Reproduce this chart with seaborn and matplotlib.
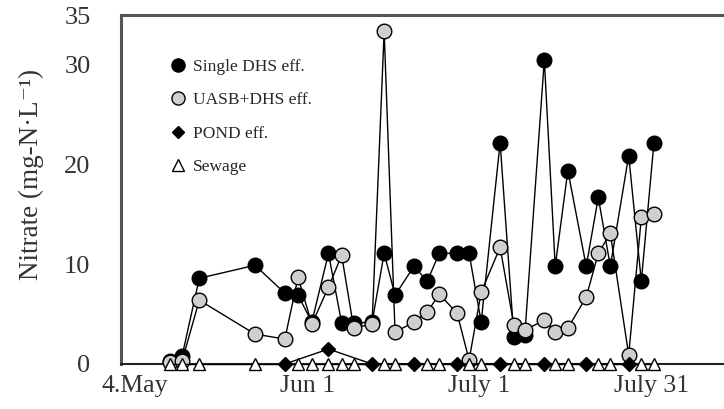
import matplotlib
matplotlib.use("Agg")
import matplotlib.pyplot as plt
import seaborn as sns
import pandas as pd

# Days counted from the "4.May" tick
single_days = [6.1, 8.2, 11.2, 20.9, 26.1, 28.4, 30.8, 33.7, 36.0, 38.1, 41.3, 43.4, 45.3,
               48.6, 50.9, 53.0, 56.1, 58.2, 60.3, 63.6, 66.0, 67.9, 71.3, 73.2, 75.4,
               78.6, 80.7, 82.8, 86.0, 88.2, 90.4]
single_vals = [0.3, 0.8, 8.6, 9.9, 7.1, 6.9, 4.2, 11.1, 4.1, 4.1, 4.2, 11.1, 6.9,
               9.8, 8.3, 11.1, 11.1, 11.1, 4.2, 22.2, 2.7, 2.9, 30.5, 9.8, 19.4,
               9.8, 16.7, 9.8, 20.9, 8.3, 22.2]
uasb_vals = [0.2, 0.3, 6.4, 3.0, 2.5, 8.7, 4.0, 7.7, 10.9, 3.6, 4.0, 33.4, 3.2,
             4.2, 5.2, 7.0, 5.1, 0.4, 7.2, 11.7, 3.9, 3.4, 4.4, 3.2, 3.6,
             6.7, 11.1, 13.1, 0.9, 14.7, 15.0]
pond_days = [26.1, 33.7, 41.3, 48.6, 56.1, 63.6, 71.3, 78.6, 86.0]
pond_vals = [0.0, 1.5, 0.0, 0.0, 0.0, 0.0, 0.0, 0.0, 0.0]
sewage_days = [6.1, 8.2, 11.2, 20.9, 28.4, 30.8, 33.7, 36.0, 38.1, 43.4, 45.3, 50.9, 53.0,
               58.2, 60.3, 66.0, 67.9, 73.2, 75.4, 80.7, 82.8, 88.2, 90.4]
sewage_vals = [0.0] * len(sewage_days)

xtick_pos = [0, 30, 60, 90]
xtick_labels = ["4.May", "Jun 1", "July 1", "July 31"]
ytick_pos = [0, 10, 20, 30, 35]

series = [
    ("Single DHS eff.", single_days, single_vals, dict(marker="o", mfc="black", ms=10.5)),
    ("UASB+DHS eff.", single_days, uasb_vals, dict(marker="o", mfc="#cfcfcf", ms=10.5)),
    ("POND eff.", pond_days, pond_vals, dict(marker="D", mfc="black", ms=7)),
    ("Sewage", sewage_days, sewage_vals, dict(marker="^", mfc="white", ms=9)),
]

sns.set_theme(style="white")
plt.rcParams["font.family"] = ["Liberation Serif", "DejaVu Serif"]

fig = plt.figure(figsize=(7.24, 4.09), dpi=100)
ax = fig.add_axes([121 / 724, 45 / 409, 1 - 121 / 724, 349 / 409])

handles = []
for name, xs, ys, st in series:
    df = pd.DataFrame({"day": xs, "val": ys})
    sns.lineplot(data=df, x="day", y="val", ax=ax, sort=False, estimator=None,
                 color="black", lw=1.0, marker=st["marker"], markersize=st["ms"],
                 markerfacecolor=st["mfc"], markeredgecolor="black",
                 markeredgewidth=1.0, clip_on=False, zorder=3)
    h, = ax.plot([], [], ls="none", marker=st["marker"], ms=st["ms"] * 0.9,
                 mfc=st["mfc"], mec="black", mew=1.0)
    handles.append((h, name))

ax.set_xlim(-2.44, 102.6)
ax.set_ylim(0, 35)
ax.set_xticks(xtick_pos)
ax.set_xticklabels(xtick_labels, fontsize=18.5)
ax.set_yticks(ytick_pos)
ax.set_yticklabels([str(v) for v in ytick_pos], fontsize=19)
ax.tick_params(axis="y", direction="in", length=5, width=1, pad=22, colors="#333333")
ax.tick_params(axis="x", length=0, pad=8, colors="#333333")
ax.set_xlabel("")
ax.set_ylabel("Nitrate (mg-N·L⁻¹)", fontsize=19.5, color="#333333")
ax.yaxis.set_label_coords(-0.127, 0.544)

for side in ["top", "left"]:
    ax.spines[side].set_color("#555555")
    ax.spines[side].set_linewidth(2.2)
ax.spines["bottom"].set_color("#222222")
ax.spines["bottom"].set_linewidth(1.5)
ax.spines["right"].set_visible(False)

leg = ax.legend([h for h, _ in handles], [n for _, n in handles], loc="upper left",
                bbox_to_anchor=(0.055, 0.92), frameon=False, fontsize=12.5,
                handletextpad=0.35, labelspacing=1.0, handlelength=1.0)

fig.savefig("out.png", dpi=100)
